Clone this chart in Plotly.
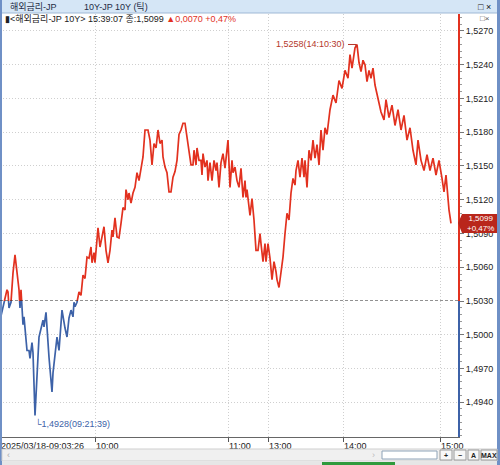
import plotly.graph_objects as go

# ---- data: JP 10Y yield, tick chart 2025/03/18 ----
tick_no = [0, 4, 7, 8, 9, 11, 13, 15, 17, 19,
           20, 21, 23, 24, 27, 29, 30, 32, 33, 35,
           39, 41, 43, 44, 46, 49, 52, 53, 57, 59,
           62, 65, 67, 69, 71, 73, 74, 75, 77, 79,
           81, 83, 85, 87, 89, 91, 92, 94, 95, 98,
           100, 102, 104, 106, 108, 110, 112, 113, 115, 117,
           119, 121, 123, 125, 126, 128, 129, 131, 133, 135,
           137, 139, 141, 143, 145, 148, 150, 152, 154, 156,
           158, 160, 162, 163, 165, 167, 169, 171, 173, 175,
           177, 179, 181, 183, 185, 187, 189, 191, 193, 194,
           196, 197, 199, 201, 202, 203, 205, 207, 208, 210,
           212, 214, 216, 217, 219, 221, 223, 225, 228, 230,
           232, 233, 235, 237, 239, 241, 243, 245, 246, 247,
           250, 252, 254, 256, 258, 260, 261, 263, 265, 266,
           268, 270, 272, 274, 276, 277, 279, 281, 283, 285,
           287, 289, 291, 293, 295, 296, 298, 300, 302, 304,
           305, 307, 309, 311, 313, 315, 317, 319, 321, 323,
           325, 327, 330, 333, 336, 339, 342, 345, 348, 350,
           352, 355, 357, 359, 361, 363, 365, 367, 369, 371,
           373, 375, 378, 381, 384, 386, 389, 392, 395, 398,
           401, 404, 407, 410, 413, 416, 418, 421, 424, 427,
           430, 433, 436, 439, 442, 444, 446, 449, 451]

yld = [1.5013, 1.5029, 1.5040, 1.5038, 1.5024, 1.5029, 1.5055, 1.5071, 1.5055, 1.5040,
       1.5024, 1.5040, 1.5009, 1.5016, 1.4986, 1.4986, 1.4979, 1.4993, 1.4984, 1.4928,
       1.4998, 1.5006, 1.5013, 1.5007, 1.5020, 1.4980, 1.4949, 1.4966, 1.4998, 1.4986,
       1.5022, 1.5006, 1.4998, 1.5015, 1.5022, 1.5016, 1.5029, 1.5025, 1.5029, 1.5038,
       1.5035, 1.5053, 1.5050, 1.5069, 1.5068, 1.5078, 1.5064, 1.5073, 1.5064, 1.5095,
       1.5078, 1.5087, 1.5096, 1.5075, 1.5064, 1.5075, 1.5093, 1.5087, 1.5104, 1.5087,
       1.5086, 1.5099, 1.5113, 1.5111, 1.5129, 1.5120, 1.5126, 1.5117, 1.5126, 1.5131,
       1.5144, 1.5137, 1.5148, 1.5158, 1.5182, 1.5182, 1.5173, 1.5151, 1.5170, 1.5166,
       1.5182, 1.5170, 1.5173, 1.5158, 1.5149, 1.5144, 1.5127, 1.5127, 1.5140, 1.5145,
       1.5155, 1.5178, 1.5182, 1.5188, 1.5188, 1.5176, 1.5166, 1.5151, 1.5151, 1.5164,
       1.5151, 1.5166, 1.5155, 1.5155, 1.5142, 1.5161, 1.5149, 1.5155, 1.5137, 1.5153,
       1.5137, 1.5155, 1.5146, 1.5153, 1.5131, 1.5153, 1.5161, 1.5148, 1.5173, 1.5131,
       1.5155, 1.5144, 1.5149, 1.5137, 1.5131, 1.5148, 1.5122, 1.5137, 1.5122, 1.5129,
       1.5106, 1.5121, 1.5102, 1.5075, 1.5075, 1.5090, 1.5081, 1.5065, 1.5081, 1.5065,
       1.5081, 1.5068, 1.5049, 1.5065, 1.5056, 1.5049, 1.5042, 1.5056, 1.5069, 1.5090,
       1.5108, 1.5102, 1.5126, 1.5139, 1.5133, 1.5146, 1.5155, 1.5140, 1.5157, 1.5140,
       1.5155, 1.5131, 1.5164, 1.5155, 1.5173, 1.5157, 1.5169, 1.5151, 1.5182, 1.5164,
       1.5184, 1.5178, 1.5200, 1.5213, 1.5206, 1.5226, 1.5219, 1.5235, 1.5228, 1.5249,
       1.5237, 1.5255, 1.5258, 1.5242, 1.5234, 1.5244, 1.5240, 1.5225, 1.5235, 1.5228,
       1.5237, 1.5222, 1.5209, 1.5198, 1.5191, 1.5209, 1.5193, 1.5204, 1.5186, 1.5200,
       1.5182, 1.5195, 1.5173, 1.5184, 1.5164, 1.5151, 1.5173, 1.5155, 1.5146, 1.5160,
       1.5146, 1.5157, 1.5142, 1.5155, 1.5139, 1.5127, 1.5142, 1.5111, 1.5099]

prev_close = 1.5030

x_tick_pos = [0, 95, 228, 268, 343, 440]
x_tick_text = ["2025/03/18-09:03:26", "10:00", "11:00", "13:00", "14:00", "15:00"]

y_top_ticks = [1.5060, 1.5090, 1.5120, 1.5150, 1.5180, 1.5210, 1.5240, 1.5270]
y_bot_ticks = [1.4940, 1.4970, 1.5000, 1.5030]


def fmt(v):
    return f"{v:.4f}".replace(".", ",")


RED = "#e2311f"
BLUE = "#3d62a8"
FONT = "Liberation Sans, Noto Sans CJK KR, sans-serif"

# pixel -> paper helpers for the window decorations
PLOT_W, PLOT_TOP, PLOT_BOT = 458, 14, 437


def fx(p):
    return p / PLOT_W


def fy(p):
    return (PLOT_BOT - p) / (PLOT_BOT - PLOT_TOP)


split = fy(301)

fig = go.Figure()
fig.add_trace(go.Scatter(x=tick_no, y=yld, mode="lines", xaxis="x", yaxis="y",
                         line=dict(color=RED, width=1.7), hoverinfo="skip"))
fig.add_trace(go.Scatter(x=tick_no, y=yld, mode="lines", xaxis="x", yaxis="y2",
                         line=dict(color=BLUE, width=1.7), hoverinfo="skip"))

grid = dict(showgrid=True, gridcolor="#cfcfcf", griddash="1px,2px", gridwidth=1, zeroline=False)
tickfont = dict(size=9, color="#222", family=FONT)

fig.update_layout(
    width=500, height=465,
    margin=dict(l=0, r=42, t=PLOT_TOP, b=465 - PLOT_BOT),
    paper_bgcolor="white", plot_bgcolor="white",
    showlegend=False,
    font=dict(family=FONT, size=9, color="#222"),
    xaxis=dict(domain=[0, 1], range=[0, PLOT_W], anchor="y2",
               tickmode="array", tickvals=x_tick_pos, ticktext=x_tick_text,
               ticks="outside", ticklen=4, tickcolor="#555",
               ticklabelposition="outside right", tickfont=tickfont,
               showline=True, linecolor="#666", linewidth=1, **grid),
    yaxis=dict(domain=[split, 1], range=[prev_close, 1.52851], side="right", anchor="x",
               tickmode="array", tickvals=y_top_ticks, ticktext=[fmt(v) for v in y_top_ticks],
               ticks="outside", ticklen=4, tickcolor="#777", tickfont=tickfont,
               showline=True, linecolor=RED, linewidth=2,
               minor=dict(dtick=0.0006, tick0=prev_close, ticks="outside", ticklen=2,
                          tickcolor="#999", showgrid=False),
               **grid),
    yaxis2=dict(domain=[0, split], range=[1.49089, 1.50301], side="right", anchor="x",
                tickmode="array", tickvals=y_bot_ticks, ticktext=[fmt(v) for v in y_bot_ticks],
                ticks="outside", ticklen=4, tickcolor="#777", tickfont=tickfont,
                showline=True, linecolor=BLUE, linewidth=2,
                minor=dict(dtick=0.0006, tick0=prev_close, ticks="outside", ticklen=2,
                           tickcolor="#999", showgrid=False),
                **grid),
)

shapes = []
# title bar
shapes.append(dict(type="rect", xref="paper", yref="paper", x0=0, x1=fx(500), y0=fy(13), y1=fy(0),
                   fillcolor="#d5e6f6", line=dict(width=0), layer="above"))
shapes.append(dict(type="line", xref="paper", yref="paper", x0=0, x1=fx(500), y0=fy(13), y1=fy(13),
                   line=dict(color="#9fb9d6", width=1)))
# window frame
shapes.append(dict(type="rect", xref="paper", yref="paper", x0=0, x1=fx(2), y0=fy(465), y1=fy(0),
                   fillcolor="#6f90c6", line=dict(width=0)))
shapes.append(dict(type="rect", xref="paper", yref="paper", x0=fx(497), x1=fx(500), y0=fy(465), y1=fy(0),
                   fillcolor="#6f90c6", line=dict(width=0)))
# previous close line
shapes.append(dict(type="line", xref="paper", yref="y", x0=0, x1=1, y0=prev_close, y1=prev_close,
                   line=dict(color="#222", width=1, dash="3px,2px")))
# max marker connector
shapes.append(dict(type="line", xref="x", yref="y", x0=348, x1=356, y0=1.5258, y1=1.5258,
                   line=dict(color="#b5372b", width=1)))
shapes.append(dict(type="line", xref="x", yref="y", x0=356, x1=356, y0=1.5258, y1=1.52555,
                   line=dict(color="#b5372b", width=1)))
# current value flag
shapes.append(dict(type="path", xref="paper", yref="paper",
                   path=f"M {fx(458)} {fy(223)} L {fx(462)} {fy(214)} L {fx(497)} {fy(214)} "
                        f"L {fx(497)} {fy(233)} L {fx(462)} {fy(233)} Z",
                   fillcolor="#b9261b", line=dict(width=0), layer="above"))
# scrollbar
shapes.append(dict(type="rect", xref="paper", yref="paper", x0=fx(2), x1=fx(497), y0=fy(461), y1=fy(449),
                   fillcolor="#f0f0f0", line=dict(color="#cfcfcf", width=1)))
shapes.append(dict(type="rect", xref="paper", yref="paper", x0=fx(382), x1=fx(437), y0=fy(459), y1=fy(451),
                   fillcolor="white", line=dict(color="#8ea3b8", width=1)))
for a, b in [(440, 452), (454, 466), (468, 479), (481, 497)]:
    shapes.append(dict(type="rect", xref="paper", yref="paper", x0=fx(a), x1=fx(b), y0=fy(460), y1=fy(450),
                       fillcolor="#f7f7f7", line=dict(color="#9a9a9a", width=1)))
shapes.append(dict(type="rect", xref="paper", yref="paper", x0=fx(2), x1=fx(497), y0=fy(465), y1=fy(462),
                   fillcolor="#e6e6e6", line=dict(width=0)))
shapes.append(dict(type="rect", xref="paper", yref="paper", x0=fx(322), x1=fx(395), y0=fy(465), y1=fy(462),
                   fillcolor="#2f9a3c", line=dict(width=0)))
fig.update_layout(shapes=shapes)

ann = []


def txt(x, y, s, size=9, color="#222", xanchor="left", xref="paper", yref="paper"):
    ann.append(dict(x=x, y=y, xref=xref, yref=yref, text=s, showarrow=False,
                    xanchor=xanchor, yanchor="middle",
                    font=dict(size=size, color=color, family=FONT)))


txt(fx(8), fy(6.5), "해외금리-JP", size=9, color="#1e2b45")
txt(fx(82), fy(6.5), "10Y-JP 10Y (틱)", size=9, color="#1e2b45")
txt(fx(476), fy(6.5), "□ ×", size=9, color="#111")
txt(fx(478), fy(18), "□×", size=8, color="#555")
txt(fx(3), fy(18.5),
    "▮&lt;해외금리-JP 10Y&gt; 15:39:07 종:1,5099 "
    f"<span style='color:{RED}'>▲0,0070 +0,47%</span>", size=9)
txt(347, 1.5258, "1,5258(14:10:30)", color="#b5372b", xanchor="right", xref="x", yref="y")
txt(33, 1.4921, "└1,4928(09:21:39)", color=BLUE, xref="x", yref="y2")
ann.append(dict(x=fx(480), y=fy(223.5), xref="paper", yref="paper", showarrow=False,
                text="1,5099<br>+0,47%", align="center", xanchor="center", yanchor="middle",
                font=dict(size=8, color="white", family=FONT)))
txt(fx(5), fy(455), "‹", size=9, color="#aaa")
txt(fx(370), fy(455), "›", size=9, color="#bbb")
for cx, s in [(446, "+"), (460, "−"), (473.5, "A"), (489, "MAX")]:
    ann.append(dict(x=fx(cx), y=fy(455), xref="paper", yref="paper", showarrow=False, text=f"<b>{s}</b>",
                    xanchor="center", yanchor="middle", font=dict(size=7, color="#222", family=FONT)))
fig.update_layout(annotations=ann)

# page body has a default 8px margin; drop it so the 500x465 figure fills the window
fig.write_html("out.html", config={"displayModeBar": False},
               post_script="document.body.style.margin='0';")
